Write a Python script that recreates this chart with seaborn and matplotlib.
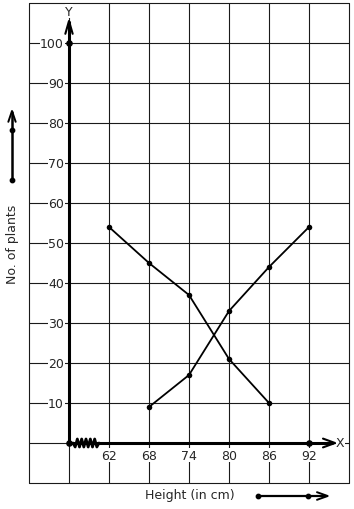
import numpy as np
import pandas as pd
import matplotlib
matplotlib.use("Agg")
import matplotlib.pyplot as plt
import seaborn as sns

# ---- data ----
heights_less = [68, 74, 80, 86, 92]
plants_less = [9, 17, 33, 44, 54]
heights_more = [62, 68, 74, 80, 86]
plants_more = [54, 45, 37, 21, 10]
x_tick_values = [62, 68, 74, 80, 86, 92]
y_tick_values = [10, 20, 30, 40, 50, 60, 70, 80, 90, 100]

sns.set_style("white")
plt.rcParams['font.family'] = ['DejaVu Sans']

W, H = 354, 510
fig = plt.figure(figsize=(W / 100, H / 100), dpi=100)
ax = fig.add_axes([29 / W, 26 / H, 320 / W, 480 / H])

x0 = 56  # origin (after axis break)
xmin, xmax = 50, 98
ymin, ymax = -10, 110
ax.set_xlim(xmin, xmax)
ax.set_ylim(ymin, ymax)

gcol = "#1a1a1a"
for xv in np.arange(xmin, xmax + 1, 6):
    ax.axvline(xv, color=gcol, lw=0.8, zorder=1, clip_on=False)
for yv in np.arange(ymin, ymax + 1, 10):
    ax.axhline(yv, color=gcol, lw=0.8, zorder=1, clip_on=False)
for s in ax.spines.values():
    s.set_visible(False)
ax.set_xticks([])
ax.set_yticks([])

# main axes
ax.plot([x0, x0], [0, 105.5], color="black", lw=2.2, zorder=3, solid_capstyle="butt")
ax.plot([x0, 95.6], [0, 0], color="black", lw=2.2, zorder=3, solid_capstyle="butt")
# arrow heads
ax.plot([x0 - 0.55, x0, x0 + 0.55], [102.3, 105.5, 102.3], color="black", lw=1.5, zorder=4)
ax.plot([94.1, 95.9, 94.1], [1.1, 0, -1.1], color="black", lw=1.5, zorder=4)
ax.text(x0, 108.0, "Y", ha="center", va="center", fontsize=9, zorder=5,
        bbox=dict(facecolor="white", edgecolor="none", pad=0.2), clip_on=False)
ax.text(96.7, 0, "X", ha="center", va="center", fontsize=9, zorder=5,
        bbox=dict(facecolor="white", edgecolor="none", pad=0.2))

# axis break zigzag
zx = np.linspace(x0 + 0.6, x0 + 4.5, 13)
zy = np.tile([1.0, -1.0], 7)[:13]
zy[0] = 0
zy[-1] = 0
ax.plot(zx, zy, color="black", lw=2.0, zorder=4)

# dots on axes
ax.scatter([x0, x0, 92], [0, 100, 0], s=14, color="black", zorder=6)

# data lines
df_less = pd.DataFrame({"h": heights_less, "n": plants_less})
df_more = pd.DataFrame({"h": heights_more, "n": plants_more})
sns.lineplot(data=df_less, x="h", y="n", ax=ax, color="black", lw=1.3,
             marker="o", markersize=4, markeredgewidth=0, zorder=5)
sns.lineplot(data=df_more, x="h", y="n", ax=ax, color="black", lw=1.3,
             marker="o", markersize=4, markeredgewidth=0, zorder=5)
ax.set_xlim(xmin, xmax)
ax.set_ylim(ymin, ymax)
ax.set_xlabel("")
ax.set_ylabel("")

bb = dict(facecolor="white", edgecolor="none", pad=0.4)
for yv in y_tick_values:
    ax.text(55.25, yv, str(yv), ha="right", va="center", fontsize=9,
            bbox=bb, zorder=5)
for xv in x_tick_values:
    ax.text(xv, -3.1, str(xv), ha="center", va="center", fontsize=9,
            bbox=bb, zorder=5)

# outside decorations
ax.text(74.1, -13.0, "Height (in cm)", ha="center", va="center", fontsize=9,
        clip_on=False)
ax.plot([84.35, 94.6], [-13.25, -13.25], color="black", lw=1.6, clip_on=False)
ax.plot([93.2, 94.8, 93.2], [-12.3, -13.25, -14.2], color="black", lw=1.4, clip_on=False)
ax.scatter([84.35, 91.85], [-13.25, -13.25], s=10, color="black", clip_on=False, zorder=6)

ax.text(47.45, 49.8, "No. of plants", rotation=90, ha="center", va="center",
        fontsize=9, clip_on=False)
ax.plot([47.45, 47.45], [65.75, 82.8], color="black", lw=1.8, clip_on=False)
ax.plot([46.9, 47.45, 48.0], [80.3, 83.0, 80.3], color="black", lw=1.4, clip_on=False)
ax.scatter([47.45, 47.45], [65.75, 78.25], s=10, color="black", clip_on=False, zorder=6)

fig.savefig("out.png", dpi=100)
